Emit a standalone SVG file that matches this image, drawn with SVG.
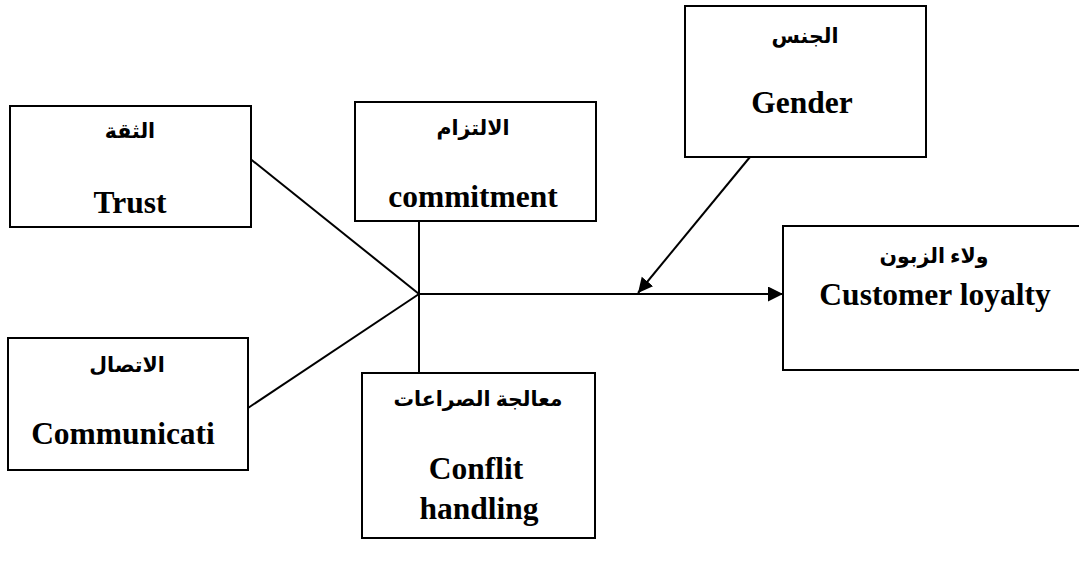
<svg xmlns="http://www.w3.org/2000/svg" width="1079" height="566" viewBox="0 0 1079 566">
<style>
.box{fill:#fff;stroke:#000;stroke-width:2}
.en{font-family:"Liberation Serif","Times New Roman",serif;font-weight:bold;font-size:31.5px;text-anchor:middle;fill:#000}
.ar{font-family:"Liberation Serif","DejaVu Sans",serif;font-weight:bold;font-size:20.5px;text-anchor:middle;fill:#000}
.conn line{stroke:#000;stroke-width:2;fill:none}
</style>
<defs>
<marker id="arr" markerUnits="userSpaceOnUse" markerWidth="16" markerHeight="16" refX="15" refY="7.5" orient="auto">
<path d="M0,0 L15,7.5 L0,15 z" fill="#000"/>
</marker>
</defs>
<rect width="1079" height="566" fill="#fff"/>
<g class="conn" id="connectors">
<line x1="248" y1="157" x2="419" y2="294"/>
<line x1="248" y1="408" x2="419" y2="294"/>
<line x1="419" y1="221" x2="419" y2="373"/>
<line x1="419" y1="294" x2="783" y2="294" marker-end="url(#arr)"/>
<line x1="750" y1="157" x2="638" y2="293" marker-end="url(#arr)"/>
</g>
<g id="trust">
<rect class="box" x="10" y="106" width="241" height="121"/>
<text class="ar" x="130" y="138">الثقة</text>
<text class="en" x="130" y="213">Trust</text>
</g>
<g id="communication">
<rect class="box" x="8" y="338" width="240" height="132"/>
<text class="ar" x="127" y="372">الاتصال</text>
<text class="en" x="123" y="444">Communicati</text>
</g>
<g id="commitment">
<rect class="box" x="355" y="102" width="241" height="119"/>
<text class="ar" x="473" y="135">الالتزام</text>
<text class="en" x="473" y="207">commitment</text>
</g>
<g id="conflict">
<rect class="box" x="362" y="373" width="233" height="165"/>
<text class="ar" x="478" y="406">معالجة الصراعات</text>
<text class="en" x="476" y="479">Conflit</text>
<text class="en" x="479" y="519">handling</text>
</g>
<g id="gender">
<rect class="box" x="685" y="6" width="241" height="151"/>
<text class="ar" x="805" y="43">الجنس</text>
<text class="en" x="802" y="113">Gender</text>
</g>
<g id="loyalty">
<rect class="box" x="783" y="226" width="310" height="144"/>
<text class="ar" x="934" y="263">ولاء الزبون</text>
<text class="en" x="935" y="305">Customer loyalty</text>
</g>
</svg>
